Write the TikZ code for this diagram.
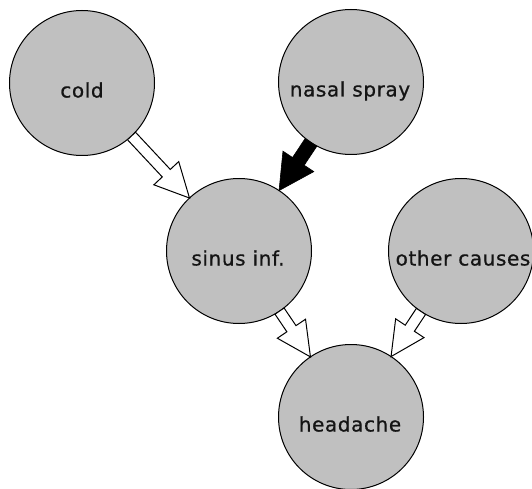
\documentclass[tikz,border=0pt]{standalone}
\usepackage{fontspec}
\usetikzlibrary{calc}
\newfontfamily\labfont[LetterSpace=3,FakeBold=0.7]{DejaVu Sans}
\definecolor{nodegray}{RGB}{192,192,192}
\definecolor{labcol}{RGB}{20,20,20}
\tikzset{
  var/.style={circle, draw=black, line width=1pt, fill=nodegray, minimum size=145pt, inner sep=0pt},
  lab/.style={font=\labfont\fontsize{20pt}{20pt}\selectfont, text=labcol, anchor=base, inner sep=0pt},
  hollow/.style={draw=black, line width=1pt, fill=white, line join=miter},
  solidarrow/.style={draw=black, line width=0.6pt, fill=black, line join=miter}
}
% #1 from, #2 to, #3 style, #4 half shaft width, #5 half head width, #6 head length
\newcommand\blockarrow[6]{%
  \path ($(#1)!72.5pt!(#2)$) coordinate (s) ($(#2)!72.5pt!(#1)$) coordinate (t)
        ($(t)!#6!(s)$) coordinate (h);
  \draw[#3] ($(s)!#4!90:(t)$) -- ($(h)!#4!-90:(s)$) -- ($(h)!#5!-90:(s)$) -- (t)
        -- ($(h)!#5!90:(s)$) -- ($(h)!#4!90:(s)$) -- ($(s)!#4!-90:(t)$) -- cycle;
}
\begin{document}
\begin{tikzpicture}[x=1pt,y=-1pt]
\useasboundingbox (0,0) rectangle (532,489);
\node[var] (cold) at (82,83) {};
\node[var] (nasal) at (351,82) {};
\node[var] (sinus) at (239,251) {};
\node[var] (other) at (461,251) {};
\node[var] (head) at (351,417) {};
\node[lab] (tcold) at (82,97.5) {cold};
\node[lab] (tnasal) at (350,96.5) {nasal spray};
\node[lab] (tsinus) at (238,265.5) {sinus inf.};
\node[lab] (tother) at (463,265.5) {other causes};
\node[lab] (thead) at (350,431.5) {headache};
\blockarrow{cold}{sinus}{hollow}{5.5pt}{17pt}{34pt}
\blockarrow{nasal}{sinus}{solidarrow}{7pt}{18.5pt}{35pt}
\blockarrow{sinus}{head}{hollow}{5.5pt}{17pt}{34pt}
\blockarrow{other}{head}{hollow}{5.5pt}{17pt}{34pt}
\end{tikzpicture}
\end{document}
